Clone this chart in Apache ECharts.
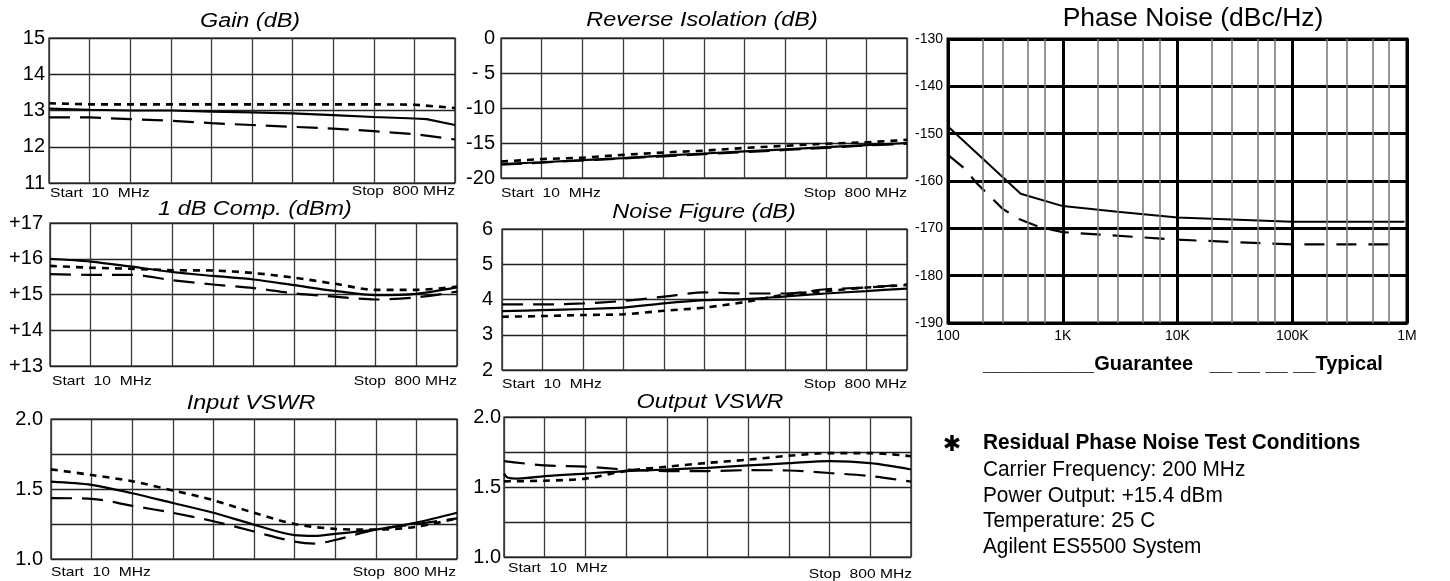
<!DOCTYPE html>
<html><head><meta charset="utf-8">
<script src="https://cdn.jsdelivr.net/npm/echarts@6/dist/echarts.min.js"></script>
<style>html,body{margin:0;padding:0;background:#fff;}#c{width:1450px;height:581px;}</style>
</head><body><div id="c"></div>
<script>
// ---------- DATA ----------
// sweep position in grid divisions (Start 10 MHz = 0 ... Stop 800 MHz = 10)
const divisions = [0,1,2,3,4,5,6,7,8,9,10];

// Gain (dB)
const gainTicks = ['11','12','13','14','15'];
const gainSolidX = [0,1,2,3,4,5,6,7,8,9,9.3,10];
const gainSolid = [13.05,13.02,13.0,13.0,12.97,12.95,12.92,12.87,12.82,12.78,12.76,12.6];
const gainShort = [13.2,13.17,13.17,13.17,13.17,13.17,13.17,13.17,13.17,13.16,13.07];
const gainLong  = [12.81,12.81,12.76,12.72,12.65,12.6,12.55,12.5,12.43,12.35,12.2];

// Reverse Isolation (dB)
const revTicks = ['-20','-15','-10','- 5','0'];
const revSolid = [-18.0,-17.75,-17.45,-17.15,-16.8,-16.5,-16.2,-15.9,-15.6,-15.3,-15.0];
const revShort = [-17.65,-17.3,-17.1,-16.7,-16.35,-16.1,-15.7,-15.4,-15.1,-14.9,-14.55];
const revLong  = [-18.1,-17.8,-17.5,-17.2,-16.9,-16.6,-16.3,-16.0,-15.7,-15.35,-15.1];

// 1 dB Comp. (dBm)
const compTicks = ['+13','+14','+15','+16','+17'];
const compSolid = [16.0,15.92,15.78,15.63,15.52,15.42,15.26,15.1,14.98,15.02,15.2];
const compShort = [15.8,15.75,15.72,15.68,15.67,15.6,15.47,15.3,15.13,15.13,15.22];
const compLong  = [15.57,15.55,15.55,15.4,15.28,15.18,15.03,14.94,14.86,14.92,15.08];

// Noise Figure (dB)
const nfTicks = ['2','3','4','5','6'];
const nfSolid = [3.67,3.70,3.73,3.77,3.89,3.98,4.01,4.09,4.17,4.24,4.31];
const nfShort = [3.51,3.53,3.56,3.58,3.68,3.77,3.93,4.14,4.24,4.34,4.41];
const nfLong  = [3.86,3.86,3.89,3.96,4.08,4.2,4.17,4.17,4.29,4.34,4.43];

// Input VSWR
const vswrTicks = ['1.0','','1.5','','2.0'];
const inSolidX = [0,1,2,3,4,5,6,6.5,7,8,9,10];
const inSolid  = [1.553,1.53,1.47,1.40,1.33,1.245,1.17,1.165,1.18,1.21,1.26,1.33];
const inShort  = [1.64,1.60,1.555,1.49,1.42,1.33,1.25,1.215,1.21,1.23,1.29];
const inLongX  = [0,1,2,3,4,5,6,6.5,7,8,9,10];
const inLong   = [1.435,1.43,1.38,1.33,1.27,1.196,1.124,1.11,1.136,1.21,1.25,1.29];

// Output VSWR
const outSolidX = [0,0.1,0.35,1,2,3,4,5,6,7,8,9,10];
const outSolid  = [1.596,1.566,1.56,1.578,1.596,1.614,1.625,1.637,1.654,1.67,1.685,1.67,1.625];
const outShort  = [1.54,1.545,1.56,1.615,1.645,1.672,1.695,1.723,1.742,1.742,1.72];
const outLong   = [1.685,1.654,1.645,1.625,1.614,1.614,1.62,1.618,1.60,1.578,1.538];

// Phase Noise (dBc/Hz)
const pnTickValues = [100,1000,10000,100000,1000000];
const pnTickLabels = ['100','1K','10K','100K','1M'];
const pnMinorFreqs = [200,300,500,700,2000,3000,5000,7000,20000,30000,50000,70000,200000,300000,500000,700000];
const pnGuaranteeFreq = [100,430,1000,3000,10000,100000,950000];
const pnGuarantee     = [-148.5,-162.7,-165.3,-166.5,-167.7,-168.6,-168.6];
const pnTypicalFreq   = [100,138,180,300,420,620,1000,10000,100000,850000];
const pnTypical       = [-154.5,-157.3,-160.6,-165.9,-168.1,-169.7,-170.8,-172.4,-173.4,-173.4];

const conditionLines = ['Carrier Frequency: 200 MHz','Power Output: +15.4 dBm','Temperature: 25 C','Agilent ES5500 System'];

// ---------- LAYOUT / STYLE ----------
const FONT = '"Liberation Sans", Arial, Helvetica, sans-serif';
const pair = (xs, ys) => xs.map((x, i) => [x, ys[i]]);
const styles = {
  solid: {type:'solid', width:2.2},
  long:  {type:[21,10], width:2.2},
  short: {type:[7,6], width:2.6}
};

const small = [
  {grid:{left:49,top:38,width:406,height:145}, y:[11,15,1], ticks:gainTicks, margin:4,
   series:[[gainSolidX,gainSolid,'solid'],[divisions,gainShort,'short'],[divisions,gainLong,'long']], smooth:false},
  {grid:{left:501,top:38,width:406,height:140}, y:[-20,0,5], ticks:revTicks, margin:6,
   series:[[divisions,revSolid,'solid'],[divisions,revShort,'short'],[divisions,revLong,'long']], smooth:false},
  {grid:{left:50,top:223,width:407,height:143}, y:[13,17,1], ticks:compTicks, margin:7,
   series:[[divisions,compSolid,'solid'],[divisions,compShort,'short'],[divisions,compLong,'long']], smooth:0.3},
  {grid:{left:502,top:229,width:405,height:141}, y:[2,6,1], ticks:nfTicks, margin:9,
   series:[[divisions,nfSolid,'solid'],[divisions,nfShort,'short'],[divisions,nfLong,'long']], smooth:0.3},
  {grid:{left:51,top:419,width:406,height:140}, y:[1,2,0.25], ticks:vswrTicks, margin:8,
   series:[[inSolidX,inSolid,'solid'],[divisions,inShort,'short'],[inLongX,inLong,'long']], smooth:0.3},
  {grid:{left:504,top:417,width:407,height:140}, y:[1,2,0.25], ticks:vswrTicks, margin:3,
   series:[[outSolidX,outSolid,'solid'],[divisions,outShort,'short'],[divisions,outLong,'long']], smooth:0.3}
];

const grids = [], xAxes = [], yAxes = [], series = [];
small.forEach((c, i) => {
  grids.push(Object.assign({show:true, borderColor:'#000', borderWidth:1.2, backgroundColor:'transparent'}, c.grid));
  xAxes.push({type:'value', gridIndex:i, min:0, max:10, interval:1,
    axisLine:{show:false}, axisTick:{show:false}, axisLabel:{show:false},
    splitLine:{show:true, lineStyle:{color:'#3a3a3a', width:1.3}}});
  const [mn, mx, iv] = c.y;
  yAxes.push({type:'value', gridIndex:i, min:mn, max:mx, interval:iv,
    axisLine:{show:false}, axisTick:{show:false},
    axisLabel:{show:true, margin:c.margin, color:'#000', fontFamily:FONT, fontSize:20,
      formatter:v => c.ticks[Math.round((v - mn) / iv)] || ''},
    splitLine:{show:true, lineStyle:{color:'#222', width:1.3}}});
  c.series.forEach(([xs, ys, st]) => {
    series.push({type:'line', xAxisIndex:i, yAxisIndex:i, data:pair(xs, ys), symbol:'none',
      smooth:c.smooth, lineStyle:Object.assign({color:'#000'}, styles[st]), silent:true, z:3});
  });
});

// Phase noise
const PN = small.length;
grids.push({show:true, left:948, top:39, width:459, height:284, borderColor:'#000', borderWidth:3, backgroundColor:'transparent'});
xAxes.push({type:'log', logBase:10, gridIndex:PN, min:100, max:1000000, interval:1, splitNumber:4,
  axisLine:{show:false}, axisTick:{show:false},
  axisLabel:{show:true, color:'#000', fontFamily:FONT, fontSize:14, margin:6,
    formatter:v => { const k = pnTickValues.findIndex(t => Math.abs(Math.log10(t) - Math.log10(v)) < 0.01); return k >= 0 ? pnTickLabels[k] : ''; }},
  splitLine:{show:true, lineStyle:{color:'#000', width:3}}});
yAxes.push({type:'value', gridIndex:PN, min:-190, max:-130, interval:10,
  axisLine:{show:false}, axisTick:{show:false},
  axisLabel:{show:true, color:'#000', fontFamily:FONT, fontSize:14, margin:5},
  splitLine:{show:true, lineStyle:{color:'#000', width:3}}});
series.push({type:'line', name:'minor grid', xAxisIndex:PN, yAxisIndex:PN, data:[], silent:true, z:1,
  markLine:{silent:true, symbol:['none','none'], label:{show:false}, animation:false,
    lineStyle:{color:'#7c7c7c', width:1.6, type:'solid'},
    data:pnMinorFreqs.map(f => ({xAxis:f}))}});
series.push({type:'line', name:'Guarantee', xAxisIndex:PN, yAxisIndex:PN, data:pair(pnGuaranteeFreq, pnGuarantee),
  symbol:'none', lineStyle:{color:'#000', width:2, type:'solid'}, silent:true, z:3});
series.push({type:'line', name:'Typical', xAxisIndex:PN, yAxisIndex:PN, data:pair(pnTypicalFreq, pnTypical),
  symbol:'none', lineStyle:{color:'#000', width:2.2, type:[20,12]}, silent:true, z:3});

// ---------- TEXT ----------
function txt(text, x, y, font, align, sx) {
  return {type:'text', x:x, y:y, scaleX:sx || 1, silent:true, z:10,
    style:{text:text, font:font, fill:'#000', align:align, verticalAlign:'middle', textAlign:align, textVerticalAlign:'middle'}};
}
const TITLE = 'italic 20px ' + FONT;
const SS = '13px ' + FONT;
const g = [
  txt('Gain (dB)', 250, 21, TITLE, 'center', 1.17),
  txt('Reverse Isolation (dB)', 702, 20, TITLE, 'center', 1.17),
  txt('1 dB Comp. (dBm)', 255, 209, TITLE, 'center', 1.17),
  txt('Noise Figure (dB)', 704, 212, TITLE, 'center', 1.17),
  txt('Input VSWR', 251, 403, TITLE, 'center', 1.17),
  txt('Output VSWR', 710, 402, TITLE, 'center', 1.17),
  txt('Start  10  MHz', 50, 193, SS, 'left', 1.2), txt('Stop  800 MHz', 455, 191, SS, 'right', 1.2),
  txt('Start  10  MHz', 501, 193, SS, 'left', 1.2), txt('Stop  800 MHz', 907, 193, SS, 'right', 1.2),
  txt('Start  10  MHz', 52, 381, SS, 'left', 1.2), txt('Stop  800 MHz', 457, 381, SS, 'right', 1.2),
  txt('Start  10  MHz', 502, 384, SS, 'left', 1.2), txt('Stop  800 MHz', 907, 384, SS, 'right', 1.2),
  txt('Start  10  MHz', 51, 572, SS, 'left', 1.2), txt('Stop  800 MHz', 456, 572, SS, 'right', 1.2),
  txt('Start  10  MHz', 508, 568, SS, 'left', 1.2), txt('Stop  800 MHz', 912, 574, SS, 'right', 1.2),
  txt('Phase Noise (dBc/Hz)', 1193, 19, '25px ' + FONT, 'center', 1.06),
  txt('__________Guarantee   __ __ __ __Typical', 983, 364, 'bold 20px ' + FONT, 'left', 1),
  txt('\u2731', 952, 445, 'bold 22px "DejaVu Sans", sans-serif', 'center', 1),
  txt('Residual Phase Noise Test Conditions', 983, 443, 'bold 22px ' + FONT, 'left', 0.945)
];
conditionLines.forEach((s, i) => g.push(txt(s, 983, 470 + i * 25.7, '22px ' + FONT, 'left', 0.945)));

const chart = echarts.init(document.getElementById('c'), null, {renderer:'canvas'});
chart.setOption({
  backgroundColor:'#fff', animation:false,
  grid:grids, xAxis:xAxes, yAxis:yAxes, series:series, graphic:{elements:g}
});
</script>
</body></html>
